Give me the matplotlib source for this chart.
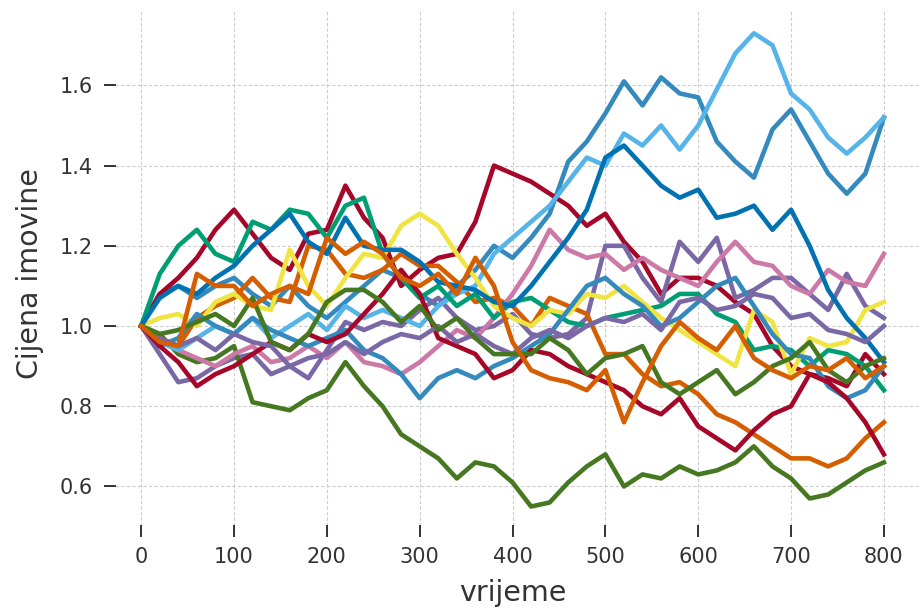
import numpy as np
import matplotlib
matplotlib.use('Agg')
import matplotlib.pyplot as plt

# time axis: values every 20 steps
t = np.arange(0, 801, 20)

# bmh colour cycle, 15 paths
COLORS = ['#348ABD', '#A60628', '#7A68A6', '#467821', '#D55E00',
          '#CC79A7', '#56B4E9', '#009E73', '#F0E442', '#0072B2',
          '#348ABD', '#A60628', '#7A68A6', '#467821', '#D55E00']

blue_hi = [1.00, 1.08, 1.10, 1.07, 1.10, 1.12, 1.08, 1.05, 1.10, 1.05, 1.02,
           1.06, 1.10, 1.14, 1.12, 1.08, 1.05, 1.10, 1.14, 1.20, 1.17,
           1.22, 1.28, 1.41, 1.46, 1.53, 1.61, 1.55, 1.62, 1.58, 1.57,
           1.46, 1.41, 1.37, 1.49, 1.54, 1.46, 1.38, 1.33, 1.38, 1.52]
red_hi = [1.00, 1.08, 1.12, 1.17, 1.24, 1.29, 1.23, 1.17, 1.14, 1.23, 1.24,
          1.35, 1.27, 1.22, 1.10, 1.14, 1.17, 1.18, 1.26, 1.40, 1.38,
          1.36, 1.33, 1.30, 1.25, 1.28, 1.21, 1.16, 1.08, 1.12, 1.12,
          1.10, 1.06, 1.03, 0.95, 0.90, 0.88, 0.87, 0.85, 0.93, 0.88]
purple_a = [1.00, 0.93, 0.86, 0.87, 0.90, 0.92, 0.93, 0.88, 0.90, 0.87, 0.94,
            1.01, 0.99, 1.01, 1.00, 1.04, 1.07, 1.02, 0.99, 1.00, 1.03,
            0.98, 0.97, 0.98, 1.02, 1.20, 1.20, 1.12, 1.06, 1.21, 1.16,
            1.22, 1.07, 1.09, 1.12, 1.12, 1.08, 1.04, 1.13, 1.05, 1.02]
green_lo = [1.00, 0.98, 0.93, 0.91, 0.92, 0.95, 0.81, 0.80, 0.79, 0.82, 0.84,
            0.91, 0.85, 0.80, 0.73, 0.70, 0.67, 0.62, 0.66, 0.65, 0.61,
            0.55, 0.56, 0.61, 0.65, 0.68, 0.60, 0.63, 0.62, 0.65, 0.63,
            0.64, 0.66, 0.70, 0.65, 0.62, 0.57, 0.58, 0.61, 0.64, 0.66]
orange_a = [1.00, 0.97, 0.95, 1.02, 1.05, 1.07, 1.12, 1.07, 1.06, 1.20, 1.19,
            1.13, 1.12, 1.14, 1.18, 1.15, 1.15, 1.11, 1.06, 1.07, 1.05,
            1.00, 1.07, 1.05, 1.03, 0.93, 0.93, 0.88, 0.85, 0.86, 0.83,
            0.78, 0.76, 0.73, 0.70, 0.67, 0.67, 0.65, 0.67, 0.72, 0.76]
pink = [1.00, 0.97, 0.94, 0.92, 0.90, 0.93, 0.95, 0.91, 0.92, 0.95, 0.92,
        0.96, 0.91, 0.90, 0.88, 0.91, 0.95, 0.99, 0.97, 1.02, 1.08,
        1.15, 1.24, 1.19, 1.17, 1.18, 1.14, 1.17, 1.14, 1.12, 1.10,
        1.16, 1.21, 1.16, 1.15, 1.10, 1.08, 1.14, 1.11, 1.10, 1.18]
light_blue = [1.00, 0.96, 0.94, 0.97, 1.00, 0.98, 1.02, 0.97, 1.00, 1.03, 0.99,
              1.05, 1.02, 1.04, 1.02, 1.00, 1.05, 1.08, 1.10, 1.18, 1.22,
              1.26, 1.30, 1.36, 1.42, 1.40, 1.48, 1.45, 1.50, 1.44, 1.50,
              1.59, 1.68, 1.73, 1.70, 1.58, 1.54, 1.47, 1.43, 1.47, 1.52]
teal = [1.00, 1.13, 1.20, 1.24, 1.18, 1.16, 1.26, 1.24, 1.29, 1.28, 1.22,
        1.30, 1.32, 1.18, 1.12, 1.07, 1.10, 1.05, 1.08, 1.02, 1.06,
        1.07, 1.04, 1.01, 1.00, 1.02, 1.03, 1.04, 1.05, 1.08, 1.08,
        1.03, 1.01, 0.94, 0.95, 0.94, 0.90, 0.94, 0.93, 0.90, 0.84]
yellow = [1.00, 1.02, 1.03, 1.00, 1.06, 1.08, 1.05, 1.04, 1.19, 1.10, 1.05,
          1.12, 1.18, 1.17, 1.25, 1.28, 1.25, 1.18, 1.12, 1.05, 1.02,
          1.00, 1.04, 1.03, 1.08, 1.07, 1.10, 1.06, 1.02, 0.99, 0.96,
          0.93, 0.90, 1.04, 1.01, 0.88, 0.97, 0.95, 0.96, 1.04, 1.06]
dark_blue = [1.00, 1.07, 1.10, 1.08, 1.12, 1.15, 1.20, 1.24, 1.28, 1.21, 1.18,
             1.27, 1.20, 1.19, 1.19, 1.16, 1.11, 1.10, 1.09, 1.06, 1.05,
             1.10, 1.16, 1.22, 1.29, 1.42, 1.45, 1.40, 1.35, 1.32, 1.34,
             1.27, 1.28, 1.30, 1.24, 1.29, 1.20, 1.09, 1.02, 0.97, 0.91]
blue_lo = [1.00, 0.95, 0.97, 1.03, 1.00, 0.98, 1.02, 0.99, 0.97, 0.95, 0.97,
           0.99, 0.94, 0.92, 0.88, 0.82, 0.87, 0.89, 0.87, 0.90, 0.92,
           0.95, 0.98, 1.04, 1.10, 1.12, 1.08, 1.05, 1.00, 1.02, 1.06,
           1.10, 1.12, 1.05, 0.98, 0.93, 0.92, 0.85, 0.82, 0.84, 0.90]
red_lo = [1.00, 0.95, 0.91, 0.85, 0.88, 0.90, 0.93, 0.96, 0.94, 0.98, 0.96,
          0.98, 1.03, 1.08, 1.14, 1.08, 0.97, 0.95, 0.93, 0.87, 0.89,
          0.94, 0.93, 0.90, 0.88, 0.86, 0.84, 0.80, 0.78, 0.82, 0.75,
          0.72, 0.69, 0.74, 0.78, 0.80, 0.88, 0.86, 0.82, 0.76, 0.68]
purple_b = [1.00, 0.97, 0.95, 0.97, 0.94, 0.98, 0.96, 0.95, 0.90, 0.92, 0.93,
            0.96, 0.93, 0.96, 0.98, 0.97, 1.00, 0.96, 0.98, 0.95, 0.93,
            0.97, 0.99, 0.97, 1.00, 1.02, 1.01, 1.03, 0.99, 1.06, 1.07,
            1.04, 1.05, 1.08, 1.07, 1.02, 1.03, 0.99, 0.98, 0.96, 1.00]
green_hi = [1.00, 0.98, 0.99, 1.01, 1.03, 1.00, 1.07, 0.96, 0.94, 0.98, 1.06,
            1.09, 1.09, 1.06, 1.01, 1.05, 0.99, 1.02, 0.97, 0.93, 0.93,
            0.93, 0.97, 0.94, 0.88, 0.92, 0.93, 0.95, 0.86, 0.83, 0.86,
            0.89, 0.83, 0.86, 0.90, 0.92, 0.96, 0.89, 0.86, 0.90, 0.92]
orange_b = [1.00, 0.96, 0.95, 1.13, 1.10, 1.10, 1.05, 1.08, 1.10, 1.08, 1.22,
            1.18, 1.21, 1.18, 1.12, 1.10, 1.13, 1.08, 1.17, 1.10, 0.96,
            0.89, 0.87, 0.86, 0.84, 0.89, 0.76, 0.86, 0.95, 1.01, 0.97,
            0.94, 1.00, 0.92, 0.89, 0.87, 0.90, 0.89, 0.92, 0.87, 0.90]

paths = [blue_hi, red_hi, purple_a, green_lo, orange_a, pink, light_blue, teal,
         yellow, dark_blue, blue_lo, red_lo, purple_b, green_hi, orange_b]

fig = plt.figure(figsize=(9.19, 6.13), dpi=100)
ax = fig.add_axes([0.1132, 0.124, 0.889, 0.8597])
for vals, c in zip(paths, COLORS):
    ax.plot(t, vals, color=c, lw=3.3)

ax.set_xlim(-40, 840)
ax.set_ylim(0.474, 1.788)
ax.set_xticks(range(0, 801, 100))
ax.set_yticks([0.6, 0.8, 1.0, 1.2, 1.4, 1.6])
ax.grid(True, color='#cccccc', lw=0.8, ls=(0, (3, 2)))
ax.set_axisbelow(True)
for s in ax.spines.values():
    s.set_visible(False)
ax.tick_params(direction='in', length=8.5, width=1.4, color='#333333',
               labelsize=15, labelcolor='#333333')
ax.tick_params(axis='y', pad=8)
ax.tick_params(axis='x', pad=7)
ax.set_xlabel('vrijeme', fontsize=20.5, color='#333333', labelpad=9)
ax.set_ylabel('Cijena imovine', fontsize=20.5, color='#333333', labelpad=11)

fig.savefig('out.png', dpi=100)
